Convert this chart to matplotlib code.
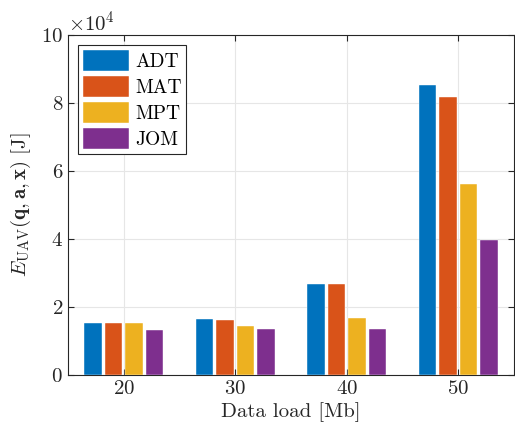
import numpy as np
import matplotlib
matplotlib.use("Agg")
import matplotlib.pyplot as plt
from matplotlib.ticker import ScalarFormatter

plt.rcParams["font.family"] = "serif"
plt.rcParams["font.serif"] = ["cmr10"]
plt.rcParams["mathtext.fontset"] = "cm"
plt.rcParams["axes.formatter.use_mathtext"] = True

# 数据 (J)
loads = [20, 30, 40, 50]
series = ["ADT", "MAT", "MPT", "JOM"]
adt = [15400, 16400, 26700, 85200]
mat = [15400, 16300, 26700, 81700]
mpt = [15400, 14400, 16900, 56200]
jom = [13100, 13400, 13600, 39600]
colors = ["#0072BD", "#D95319", "#EDB120", "#7E2F8E"]

fig = plt.figure(figsize=(5.15, 4.33), dpi=100)
ax = fig.add_axes([0.132, 0.134, 0.866, 0.785])

offsets = [-2.75, -0.92, 0.92, 2.75]
x = np.array(loads, dtype=float)
for vals, name, c, off in zip([adt, mat, mpt, jom], series, colors, offsets):
    ax.bar(x + off, vals, width=1.55, color=c, label=name, zorder=3,
           edgecolor="white", linewidth=0.3)

ax.set_xlim(15, 55)
ax.set_ylim(0, 100000)
ax.set_xticks(loads)
ax.set_yticks(np.arange(0, 100001, 20000))
fmt = ScalarFormatter(useMathText=True)
fmt.set_powerlimits((4, 4))
ax.yaxis.set_major_formatter(fmt)

ax.grid(True, color="#e6e6e6", linewidth=0.8, zorder=0)
ax.set_axisbelow(True)
ax.tick_params(direction="in", top=True, right=True, labelsize=15,
               colors="#262626", length=4)
for s in ax.spines.values():
    s.set_color("#262626")
    s.set_linewidth(0.8)
ax.yaxis.get_offset_text().set_fontsize(15)

ax.set_xlabel("Data load [Mb]", fontsize=15, color="#262626", labelpad=3)
ax.set_ylabel(r"$E_{\mathrm{UAV}}(\mathbf{q},\mathbf{a},\mathbf{x})\ [\mathrm{J}]$",
              fontsize=15, color="#262626", labelpad=6)

leg = ax.legend(loc="upper left", fontsize=14, fancybox=False, framealpha=1,
                edgecolor="#262626", borderaxespad=0.5, handlelength=2.4,
                handleheight=1.3, handletextpad=0.3, labelspacing=0.25,
                borderpad=0.25)
leg.get_frame().set_linewidth(0.8)

fig.savefig("out.png", dpi=100)
